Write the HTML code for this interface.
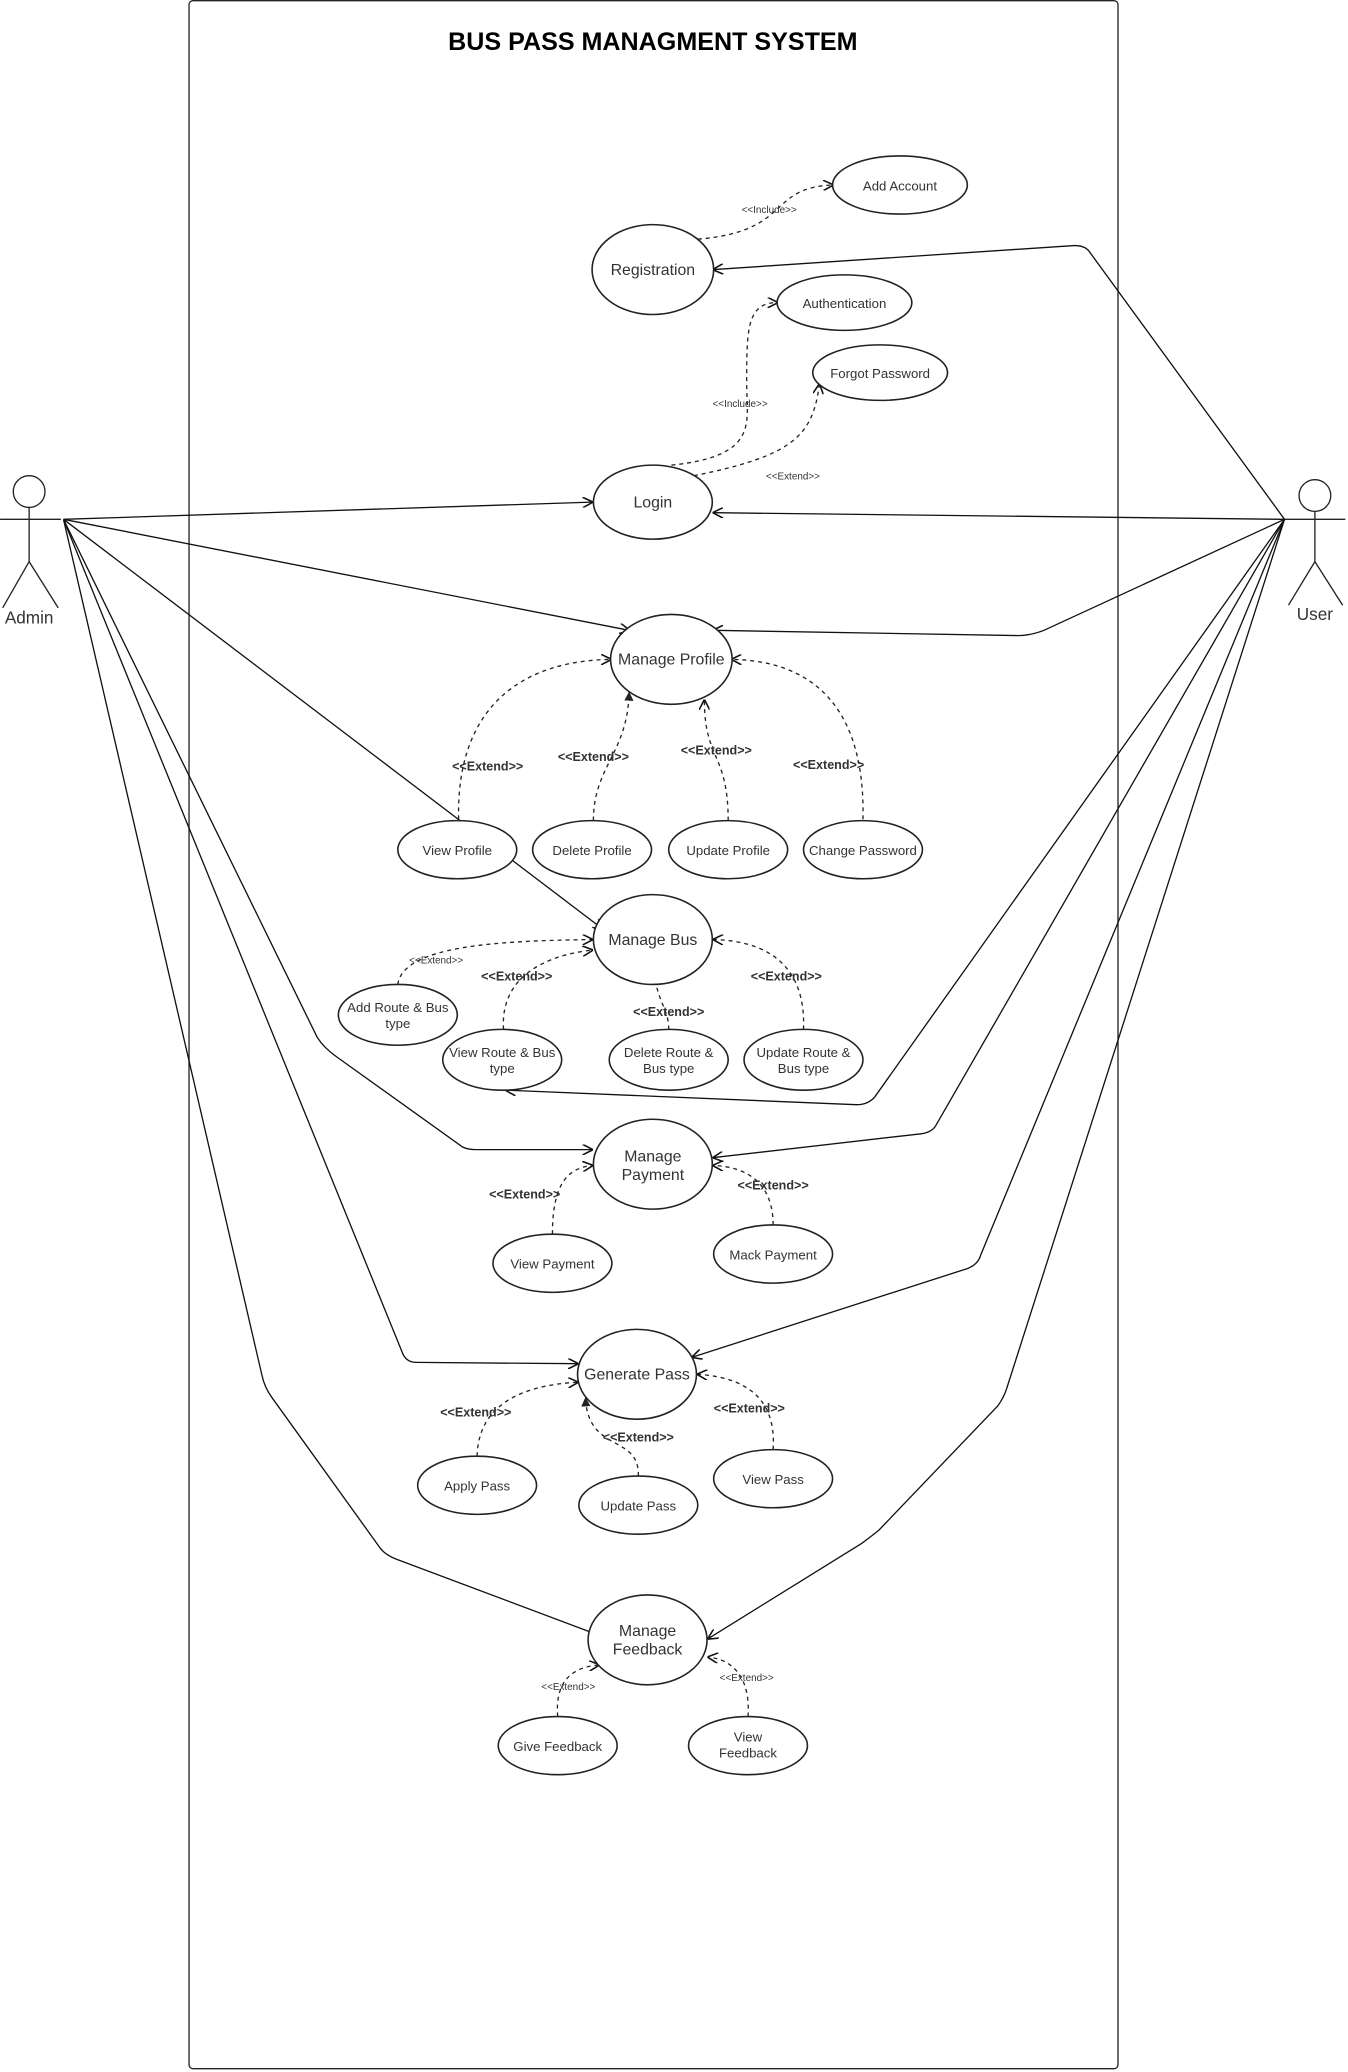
<!DOCTYPE html>
<html><head><meta charset="utf-8"><style>
html,body{margin:0;padding:0;background:#fff;}
svg{display:block;}
text{font-family:"Liberation Sans",Arial,sans-serif;fill:#333;text-anchor:middle;}
.uc{fill:#fff;stroke:#222;stroke-width:1.2;}
.ln{fill:none;stroke:#111;stroke-width:1;}
.ds{fill:none;stroke:#222;stroke-width:1;stroke-dasharray:3,3;}
.t{font-size:10px;}
.tb{font-size:12px;}
.st{font-size:9.5px;font-weight:bold;}
.ss{font-size:7.5px;}
</style></head><body>
<svg width="1348" height="2072" viewBox="0 0 1020 1568" xmlns="http://www.w3.org/2000/svg">
<defs>
<marker id="a" viewBox="0 0 10 10" refX="9" refY="5" markerWidth="8" markerHeight="8" orient="auto"><path d="M0,0 L10,5 L0,10" fill="none" stroke="#111" stroke-width="1.5"/></marker>
<marker id="f" viewBox="0 0 10 10" refX="9" refY="5" markerWidth="7" markerHeight="7" orient="auto"><path d="M0,0 L10,5 L0,10 z" fill="#222"/></marker>
</defs>
<rect x="0" y="0" width="1020" height="1568" fill="#fff"/>
<rect x="143" y="0.5" width="703" height="1565" rx="3" fill="none" stroke="#222" stroke-width="1"/>
<text x="494" y="38" style="font-size:19px;font-weight:bold;fill:#000">BUS PASS MANAGMENT SYSTEM</text>

<g stroke="#222" fill="none" stroke-width="1">
<circle cx="22" cy="372" r="12" fill="#fff"/>
<line x1="22" y1="384" x2="22" y2="425"/>
<line x1="0" y1="393" x2="46" y2="393"/>
<line x1="22" y1="425" x2="2" y2="460"/>
<line x1="22" y1="425" x2="44" y2="460"/>
<circle cx="995" cy="375" r="12" fill="#fff"/>
<line x1="995" y1="387" x2="995" y2="425"/>
<line x1="972" y1="393" x2="1018" y2="393"/>
<line x1="995" y1="425" x2="975" y2="458"/>
<line x1="995" y1="425" x2="1016" y2="458"/>
</g>
<text x="22" y="472" style="font-size:13px">Admin</text>
<text x="995" y="469" style="font-size:13px">User</text>

<path class="ln" d="M48,393 L448,380" marker-end="url(#a)"/>
<path class="ln" d="M48,393 L476,477" marker-end="url(#a)"/>
<path class="ln" d="M48,393 L456,703" marker-end="url(#a)"/>
<path class="ln" d="M48,393 L240,785 Q245,793 255,800 L350,868 Q354,870 360,870 L448,870" marker-end="url(#a)"/>
<path class="ln" d="M48,393 L305,1025 Q308,1031 315,1031 L437,1032" marker-end="url(#a)"/>
<path class="ln" d="M48,393 L198,1040 Q200,1050 206,1058 L288,1172 Q292,1177 300,1180 L460,1240" marker-end="url(#a)"/>

<path class="ln" d="M972,393 L824,190 Q820,185 810,186 L540,204" marker-end="url(#a)"/>
<path class="ln" d="M972,393 L540,388" marker-end="url(#a)"/>
<path class="ln" d="M972,393 L790,477 Q780,481 770,481 L540,477" marker-end="url(#a)"/>
<path class="ln" d="M972,393 L662,830 Q657,836 648,836 L383,825" marker-end="url(#a)"/>
<path class="ln" d="M972,393 L708,852 Q705,857 697,858 L540,876" marker-end="url(#a)"/>
<path class="ln" d="M972,393 L742,950 Q740,957 732,960 L524,1027" marker-end="url(#a)"/>
<path class="ln" d="M972,393 L762,1050 Q760,1057 755,1064 L665,1158 Q660,1162 652,1168 L536,1240" marker-end="url(#a)"/>

<path class="ds" d="M528,181 C600,175 580,142 630,140" marker-end="url(#a)"/>
<text class="ss" x="582" y="161">&lt;&lt;Include&gt;&gt;</text>
<path class="ds" d="M508,352 C575,345 565,320 565,290 C565,250 565,229 588,229" marker-end="url(#a)"/>
<text class="ss" x="560" y="308">&lt;&lt;Include&gt;&gt;</text>
<path class="ds" d="M525,360 C600,345 615,330 620,291" marker-end="url(#a)"/>
<text class="ss" x="600" y="363">&lt;&lt;Extend&gt;&gt;</text>

<path class="ds" d="M347,620 C345,530 400,500 462,499" marker-end="url(#a)"/>
<text class="st" x="369" y="583">&lt;&lt;Extend&gt;&gt;</text>
<path class="ds" d="M449,621 C449,580 475,570 476,524" marker-end="url(#f)"/>
<text class="st" x="449" y="576">&lt;&lt;Extend&gt;&gt;</text>
<path class="ds" d="M551,621 C551,570 533,575 533,530" marker-end="url(#a)"/>
<text class="st" x="542" y="571">&lt;&lt;Extend&gt;&gt;</text>
<path class="ds" d="M653,620 C655,530 610,500 554,499" marker-end="url(#a)"/>
<text class="st" x="627" y="582">&lt;&lt;Extend&gt;&gt;</text>

<path class="ds" d="M301,745 C305,715 380,712 448,711" marker-end="url(#a)"/>
<text class="ss" x="330" y="729">&lt;&lt;Extend&gt;&gt;</text>
<path class="ds" d="M381,779 C378,735 420,722 448,719" marker-end="url(#a)"/>
<text class="st" x="391" y="742">&lt;&lt;Extend&gt;&gt;</text>
<path class="ds" d="M506,779 C506,760 494,758 494,719" marker-end="url(#f)"/>
<text class="st" x="506" y="769">&lt;&lt;Extend&gt;&gt;</text>
<path class="ds" d="M608,779 C610,730 580,712 540,711" marker-end="url(#a)"/>
<text class="st" x="595" y="742">&lt;&lt;Extend&gt;&gt;</text>

<path class="ds" d="M418,934 C418,895 430,884 448,882" marker-end="url(#a)"/>
<text class="st" x="397" y="907">&lt;&lt;Extend&gt;&gt;</text>
<path class="ds" d="M585,927 C585,895 565,883 540,882" marker-end="url(#a)"/>
<text class="st" x="585" y="900">&lt;&lt;Extend&gt;&gt;</text>

<path class="ds" d="M361,1102 C362,1060 400,1048 437,1046" marker-end="url(#a)"/>
<text class="st" x="360" y="1072">&lt;&lt;Extend&gt;&gt;</text>
<path class="ds" d="M483,1117 C484,1085 445,1100 443,1058" marker-end="url(#f)"/>
<text class="st" x="483" y="1091">&lt;&lt;Extend&gt;&gt;</text>
<path class="ds" d="M585,1097 C588,1055 560,1042 528,1040" marker-end="url(#a)"/>
<text class="st" x="567" y="1069">&lt;&lt;Extend&gt;&gt;</text>

<path class="ds" d="M422,1299 C420,1275 430,1262 453,1260" marker-end="url(#a)"/>
<text class="ss" x="430" y="1279">&lt;&lt;Extend&gt;&gt;</text>
<path class="ds" d="M566,1299 C568,1270 555,1256 536,1254" marker-end="url(#a)"/>
<text class="ss" x="565" y="1272">&lt;&lt;Extend&gt;&gt;</text>

<ellipse class="uc" cx="681" cy="140" rx="51" ry="22"/><text class="t" x="681" y="144">Add Account</text>
<ellipse class="uc" cx="494" cy="204" rx="46" ry="34"/><text class="tb" x="494" y="208">Registration</text>
<ellipse class="uc" cx="639" cy="229" rx="51" ry="21"/><text class="t" x="639" y="233">Authentication</text>
<ellipse class="uc" cx="666" cy="282" rx="51" ry="21"/><text class="t" x="666" y="286">Forgot Password</text>
<ellipse class="uc" cx="494" cy="380" rx="45" ry="28"/><text class="tb" x="494" y="384">Login</text>
<ellipse class="uc" cx="508" cy="499" rx="46" ry="34"/><text class="tb" x="508" y="503">Manage Profile</text>
<ellipse class="uc" cx="346" cy="643" rx="45" ry="22"/><text class="t" x="346" y="647">View Profile</text>
<ellipse class="uc" cx="448" cy="643" rx="45" ry="22"/><text class="t" x="448" y="647">Delete Profile</text>
<ellipse class="uc" cx="551" cy="643" rx="45" ry="22"/><text class="t" x="551" y="647">Update Profile</text>
<ellipse class="uc" cx="653" cy="643" rx="45" ry="22"/><text class="t" x="653" y="647">Change Password</text>
<ellipse class="uc" cx="494" cy="711" rx="45" ry="34"/><text class="tb" x="494" y="715">Manage Bus</text>
<ellipse class="uc" cx="301" cy="768" rx="45" ry="23"/><text class="t" x="301" y="766">Add Route &amp; Bus</text><text class="t" x="301" y="778">type</text>
<ellipse class="uc" cx="380" cy="802" rx="45" ry="23"/><text class="t" x="380" y="800">View Route &amp; Bus</text><text class="t" x="380" y="812">type</text>
<ellipse class="uc" cx="506" cy="802" rx="45" ry="23"/><text class="t" x="506" y="800">Delete Route &amp;</text><text class="t" x="506" y="812">Bus type</text>
<ellipse class="uc" cx="608" cy="802" rx="45" ry="23"/><text class="t" x="608" y="800">Update Route &amp;</text><text class="t" x="608" y="812">Bus type</text>
<ellipse class="uc" cx="494" cy="881" rx="45" ry="34"/><text class="tb" x="494" y="879">Manage</text><text class="tb" x="494" y="893">Payment</text>
<ellipse class="uc" cx="418" cy="956" rx="45" ry="22"/><text class="t" x="418" y="960">View Payment</text>
<ellipse class="uc" cx="585" cy="949" rx="45" ry="22"/><text class="t" x="585" y="953">Mack Payment</text>
<ellipse class="uc" cx="482" cy="1040" rx="45" ry="34"/><text class="tb" x="482" y="1044">Generate Pass</text>
<ellipse class="uc" cx="361" cy="1124" rx="45" ry="22"/><text class="t" x="361" y="1128">Apply Pass</text>
<ellipse class="uc" cx="483" cy="1139" rx="45" ry="22"/><text class="t" x="483" y="1143">Update Pass</text>
<ellipse class="uc" cx="585" cy="1119" rx="45" ry="22"/><text class="t" x="585" y="1123">View Pass</text>
<ellipse class="uc" cx="490" cy="1241" rx="45" ry="34"/><text class="tb" x="490" y="1238">Manage</text><text class="tb" x="490" y="1252">Feedback</text>
<ellipse class="uc" cx="422" cy="1321" rx="45" ry="22"/><text class="t" x="422" y="1325">Give Feedback</text>
<ellipse class="uc" cx="566" cy="1321" rx="45" ry="22"/><text class="t" x="566" y="1318">View</text><text class="t" x="566" y="1330">Feedback</text>
</svg>
</body></html>
